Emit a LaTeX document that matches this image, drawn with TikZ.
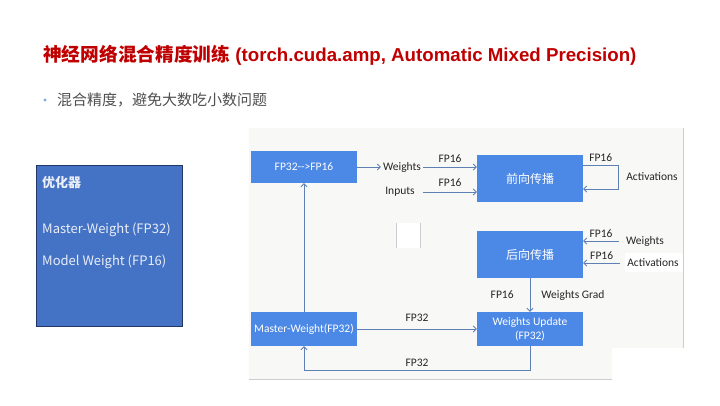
\documentclass[tikz,border=0pt]{standalone}
\usepackage{fontspec}
\setmainfont{Liberation Sans}
\newfontfamily\cjk{Noto Sans CJK SC}
\newfontfamily\diag{Carlito}
\usetikzlibrary{arrows.meta,positioning,calc}
\definecolor{myred}{RGB}{192,0,0}
\definecolor{myblue}{RGB}{68,114,196}
\definecolor{mynavy}{RGB}{35,55,100}
\definecolor{mybox}{RGB}{76,136,230}
\definecolor{myline}{RGB}{95,128,180}
\definecolor{mygray}{RGB}{80,80,80}
\definecolor{mybg}{RGB}{248,248,247}
\definecolor{myedge}{RGB}{205,205,208}
\definecolor{mybullet}{RGB}{120,170,230}
\tikzset{
  stage/.style={fill=mybox, text=white, minimum width=106pt, inner sep=0pt,
                font=\diag\fontsize{11.5}{14}\selectfont, align=center},
  cnstage/.style={stage, font=\cjk\fontsize{12}{14}\selectfont},
  lbl/.style={inner sep=2pt, text=black!85, font=\diag\fontsize{11.5}{14}\selectfont},
  arr/.style={draw=myline, line width=0.8pt, -{Straight Barb[length=3pt,width=6pt]}},
  optline/.style={anchor=west, inner sep=0pt, text=white!88!myblue,
                  font=\cjk\fontsize{13}{16}\selectfont}
}

\begin{document}
\begin{tikzpicture}[x=1pt, y=-1pt]
  \useasboundingbox[fill=white] (0,0) rectangle (720,405);

  % heading
  \node[anchor=west, inner sep=0pt, text=myred, font=\bfseries\fontsize{18.7}{22}\selectfont]
    (title) at (43,55) {{\cjk 神经网络混合精度训练} (torch.cuda.amp, Automatic Mixed Precision)};
  \fill[mybullet] (45,100) circle (1.6);
  \node[anchor=west, inner sep=0pt, text=mygray, font=\cjk\fontsize{15}{18}\selectfont]
    (sub) at (57,100) {混合精度，避免大数吃小数问题};

  % optimizer panel
  \node[draw=mynavy, fill=myblue, line width=0.8pt, minimum width=146pt,
        minimum height=161pt, inner sep=0pt] (opt) at (109,245.5) {};
  \node[optline, font=\cjk\bfseries\fontsize{13}{16}\selectfont] (optT) at (42,183) {优化器};
  \node[optline] (optA) at (42,230) {Master-Weight (FP32)};
  \node[optline] (optB) at (42,262) {Model Weight (FP16)};

  % screenshot backdrop
  \fill[mybg] (249,128) -- (683,128) -- (683,348) -- (612,348) -- (612,379) -- (249,379) -- cycle;
  \draw[myedge] (683,128) -- (683,348);
  \draw[myedge] (249,379) -- (612,379);
  \fill[white] (625,253) rectangle (683,272);
  \fill[white] (396,223) rectangle (420,248);
  \draw[myedge] (396,223) -- (396,248) (420,223) -- (420,248);

  % stages
  \node[stage, minimum height=32pt] (cast) at (304,167) {FP32-{}->FP16};
  \node[cnstage, minimum height=47pt] (fwd) at (530,178.5) {前向传播};
  \node[cnstage, minimum height=47pt] (bwd) at (530,254.5) {后向传播};
  \node[stage, minimum height=34pt] (master) at (304,329) {Master-Weight(FP32)};
  \node[stage, minimum height=34pt] (upd) at (530,329) {Weights Update\\(FP32)};

  % side labels
  \node[lbl] (wts) at (402,167) {Weights};
  \node[lbl] (inp) at (400,192) {Inputs};
  \node[lbl] (act1) at (652,177) {Activations};
  \node[lbl] (wts2) at (645,241) {Weights};
  \node[lbl] (act2) at (653,263) {Activations};

  % flow
  \draw[arr] (cast) -- (wts);
  \draw[arr] (wts) -- (wts -| fwd.west) node[lbl, midway, above=2pt] {FP16};
  \draw[arr] (inp -| wts.east) -- (inp -| fwd.west) node[lbl, midway, above=3pt] {FP16};
  \draw[arr] ([yshift=13.5pt]fwd.east) -- node[lbl, above=1pt] {FP16} ++(35,0)
    |- ([yshift=-10.5pt]fwd.east);
  \draw[arr] ([xshift=-5pt]wts2.west) -- (wts2.west -| bwd.east) node[lbl, midway, above=1pt] {FP16};
  \draw[arr] ([xshift=-5pt]act2.west) -- (act2.west -| bwd.east) node[lbl, midway, above=1pt] {FP16};
  \draw[arr] (bwd) -- (upd) node[lbl, midway, left=14pt] {FP16}
    node[lbl, midway, right=9pt] (grad) {Weights Grad};
  \draw[arr] (master) -- (upd) node[lbl, midway, above=5pt] {FP32};
  \draw[arr] (upd.south) -- ++(0,24) -| (master.south) node[lbl, pos=0.25, above=1pt] {FP32};
  \draw[arr] (master) -- (cast);
\end{tikzpicture}
\end{document}
